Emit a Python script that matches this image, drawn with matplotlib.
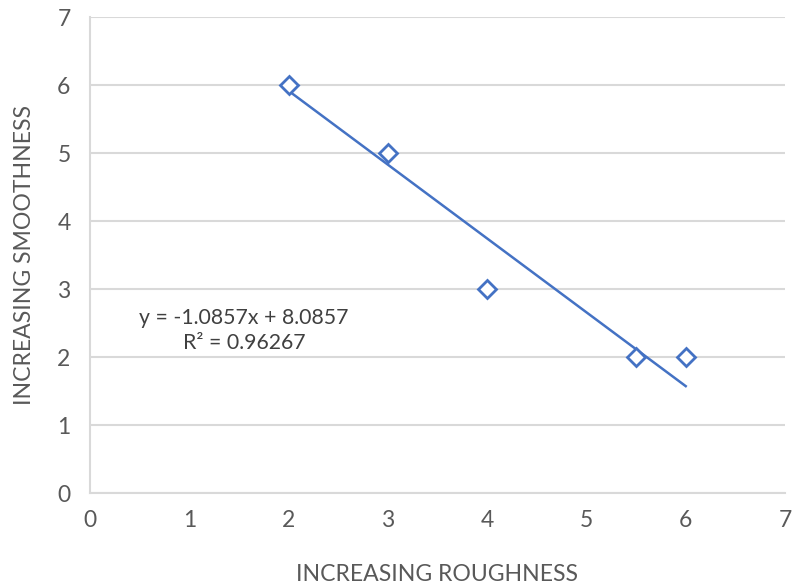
import matplotlib
matplotlib.use("Agg")
import matplotlib.pyplot as plt
import numpy as np

# Observations
roughness = [2, 3, 4, 5.5, 6]
smoothness = [6, 5, 3, 2, 2]

# Linear trendline reported on the chart
slope = -1.0857
intercept = 8.0857
r_squared = 0.96267
trend_x_range = [2, 6]

x_ticks = list(range(0, 8))
y_ticks = list(range(0, 8))

BLUE = "#4472C4"
GRID = "#D9D9D9"
TEXT = "#595959"

plt.rcParams["font.family"] = ["Lato", "DejaVu Sans"]

fig = plt.figure(figsize=(7.92, 5.88), dpi=100)
ax = fig.add_axes([90 / 792, 95 / 588, 695 / 792, 476 / 588])

ax.set_xlim(0, 7)
ax.set_ylim(0, 7)
ax.set_xticks(x_ticks)
ax.set_yticks(y_ticks)
ax.tick_params(length=0, labelsize=16.5, labelcolor=TEXT, pad=14)
ax.tick_params(axis="x", pad=12)

ax.yaxis.grid(True, color=GRID, linewidth=1.5)
ax.set_axisbelow(True)
for side in ("top", "right"):
    ax.spines[side].set_visible(False)
for side in ("left", "bottom"):
    ax.spines[side].set_color(GRID)
    ax.spines[side].set_linewidth(1.5)

tx = np.array(trend_x_range, dtype=float)
ax.plot(tx, slope * tx + intercept, color=BLUE, linewidth=1.8, zorder=3)

ax.plot(roughness, smoothness, linestyle="none", marker="D", markersize=9,
        markerfacecolor="white", markeredgecolor=BLUE, markeredgewidth=2,
        zorder=4, clip_on=False)

sign = "+" if intercept >= 0 else "-"
label = f"y = {slope:.4f}x {sign} {abs(intercept):.4f}\nR² = {r_squared:.5f}"
ax.text(1.55, 2.39, label, ha="center", va="center", fontsize=15.3,
        color="#404040", linespacing=1.35, zorder=5)

ax.set_xlabel("INCREASING ROUGHNESS", fontsize=16.6, color=TEXT, labelpad=24)
ax.set_ylabel("INCREASING SMOOTHNESS", fontsize=16.6, color=TEXT, labelpad=16)

fig.savefig("out.png", dpi=100, facecolor="white")
